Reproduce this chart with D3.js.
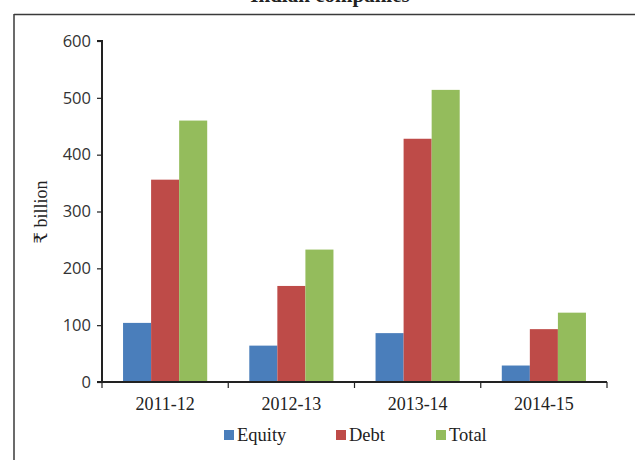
<!DOCTYPE html>
<html>
<head>
<meta charset="utf-8">
<script src="https://cdn.jsdelivr.net/npm/d3@7"></script>
<style>
  html, body { margin: 0; padding: 0; background: #fff; }
  svg { display: block; }
</style>
</head>
<body>
<svg id="chart" width="635" height="460"></svg>
<script>
const categories = ["2011-12", "2012-13", "2013-14", "2014-15"];
const seriesNames = ["Equity", "Debt", "Total"];
const equity = [104, 64, 86, 29];
const debt = [356, 169, 428, 93];
const total = [460, 233, 514, 122];
const yTicks = [0, 100, 200, 300, 400, 500, 600];
const colors = ["#4a7ebb", "#be4b48", "#94bc5c"];

const series = [equity, debt, total];
const svg = d3.select("#chart");
const serif = "'Liberation Serif', 'DejaVu Serif', serif";
const sans = "'Open Sans', 'Noto Sans', sans-serif";

// frame
svg.append("line").attr("x1", 14).attr("x2", 635).attr("y1", 14.5).attr("y2", 14.5)
  .attr("stroke", "#3a3a3a").attr("stroke-width", 1.5);
svg.append("line").attr("x1", 14).attr("x2", 14).attr("y1", 14).attr("y2", 460)
  .attr("stroke", "#3a3a3a").attr("stroke-width", 1.5);

// title (cut off at the top in the reference)
svg.append("text").attr("x", 330).attr("y", 2).attr("text-anchor", "middle")
  .attr("font-family", serif).attr("font-weight", "bold").attr("font-size", 21)
  .attr("fill", "#222").text("Indian companies");

const x0 = d3.scaleBand().domain(categories).range([102, 607]).paddingInner(0).paddingOuter(0);
const x1 = d3.scaleBand().domain(seriesNames).range([0, x0.bandwidth()]).paddingInner(0).paddingOuter(0.75);
const y = d3.scaleLinear().domain([0, 600]).range([382, 41]);

// bars
const g = svg.append("g");
categories.forEach((c, i) => {
  seriesNames.forEach((s, j) => {
    g.append("rect")
      .attr("x", x0(c) + x1(s))
      .attr("y", y(series[j][i]))
      .attr("width", x1.bandwidth())
      .attr("height", y(0) - y(series[j][i]))
      .attr("fill", colors[j]);
  });
});

// y axis
const yAxis = svg.append("g").attr("transform", "translate(102,0)")
  .call(d3.axisLeft(y).tickValues(yTicks).tickSize(5).tickPadding(6).tickFormat(d3.format("d")));
yAxis.select(".domain").attr("stroke", "#222").attr("stroke-width", 2).attr("d", "M-5,41H0V382H-5");
yAxis.selectAll(".tick line").attr("stroke", "#222").attr("stroke-width", 1.2);
yAxis.selectAll(".tick text").attr("font-family", sans).attr("font-size", 16.5).attr("fill", "#333");

// x axis
const xAxis = svg.append("g").attr("transform", "translate(0,382)")
  .call(d3.axisBottom(x0).tickSize(0).tickPadding(15));
xAxis.select(".domain").attr("stroke", "#222").attr("stroke-width", 2).attr("d", "M102,0H607");
xAxis.selectAll(".tick text").attr("font-family", serif).attr("font-size", 18).attr("fill", "#222");
// category boundary ticks
const bounds = categories.map(c => x0(c)).concat([x0(categories[categories.length - 1]) + x0.bandwidth()]);
svg.append("g").selectAll("line").data(bounds).join("line")
  .attr("x1", d => d).attr("x2", d => d).attr("y1", 382).attr("y2", 388)
  .attr("stroke", "#222").attr("stroke-width", 1.2);

// y axis label
svg.append("text").attr("transform", "translate(47,212) rotate(-90)")
  .attr("text-anchor", "middle").attr("font-family", serif).attr("font-size", 18)
  .attr("fill", "#222").text("₹ billion");

// legend
const legendX = [224, 336, 436];
const legend = svg.append("g");
seriesNames.forEach((s, j) => {
  legend.append("rect").attr("x", legendX[j]).attr("y", 430).attr("width", 10).attr("height", 10)
    .attr("fill", colors[j]);
  legend.append("text").attr("x", legendX[j] + 13).attr("y", 441)
    .attr("font-family", serif).attr("font-size", 18.5).attr("fill", "#222").text(s);
});
</script>
</body>
</html>
